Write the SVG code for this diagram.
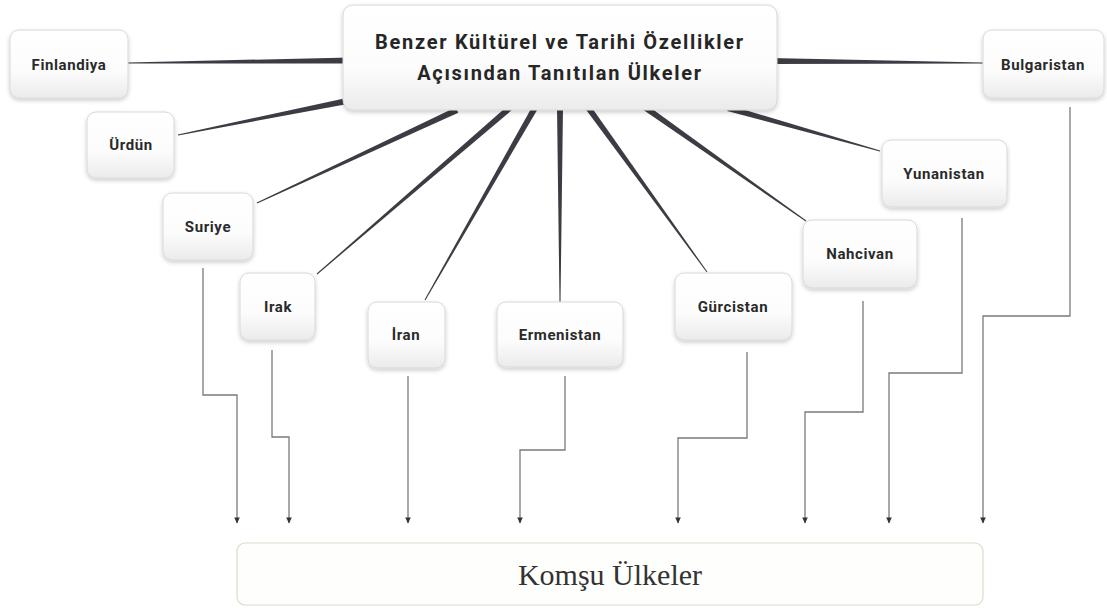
<svg xmlns="http://www.w3.org/2000/svg" width="1107" height="610" viewBox="0 0 1107 610">
<defs>
<linearGradient id="g" x1="0" y1="0" x2="0" y2="1">
<stop offset="0" stop-color="#ffffff"/><stop offset="0.6" stop-color="#fcfcfc"/><stop offset="1" stop-color="#ebebeb"/>
</linearGradient>
<filter id="sh" x="-20%" y="-20%" width="140%" height="150%">
<feDropShadow dx="0" dy="2" stdDeviation="2" flood-color="#000" flood-opacity="0.2"/>
</filter>
<marker id="ah" markerUnits="userSpaceOnUse" markerWidth="7" markerHeight="7" refX="6" refY="3.5" orient="auto" viewBox="0 0 7 7">
<path d="M0.5,0.7 L6.5,3.5 L0.5,6.3 Z" fill="#333"/>
</marker>
</defs>
<style>
.box{fill:url(#g);stroke:#d8d8d8;stroke-width:1;filter:url(#sh)}
.lbl{font-family:Roboto,"Liberation Sans",sans-serif;font-weight:bold;font-size:15px;fill:#2a2a2a;text-anchor:middle;letter-spacing:0.6px}
.title{font-family:Roboto,"Liberation Sans",sans-serif;font-weight:bold;font-size:20px;fill:#262626;text-anchor:middle;letter-spacing:1.7px}
.tap{fill:#3c3c44}
.el{fill:none;stroke:#7a7a7a;stroke-width:1.3;marker-end:url(#ah)}
</style>
<rect width="1107" height="610" fill="#ffffff"/>
<g id="connectors">
<polygon class="tap" points="128,62.5 350,57.5 350,63.5 128,63.5"/>
<polygon class="tap" points="770,58 983,62.5 983,63.5 770,64"/>
<polygon class="tap" points="178.1,135.49 347.59,103.94 346.41,98.06 177.9,134.51"/>
<polygon class="tap" points="257.21,203.45 458.27,112.72 455.73,107.28 256.79,202.55"/>
<polygon class="tap" points="317.33,274.38 513.96,108.28 510.04,103.72 316.67,273.62"/>
<polygon class="tap" points="425.43,300.25 538.6,107.49 533.4,104.51 424.57,299.75"/>
<polygon class="tap" points="560.5,302 563,106 557,106 559.5,302"/>
<polygon class="tap" points="707.4,271.71 589.43,104.24 584.57,107.76 706.6,272.29"/>
<polygon class="tap" points="806.29,220.59 644.73,103.55 641.27,108.45 805.71,221.41"/>
<polygon class="tap" points="880.14,150.52 728.82,105.11 727.18,110.89 879.86,151.48"/>
<path class="el" d="M203,268 V395 H237 V523"/>
<path class="el" d="M272,350 V437 H289 V523"/>
<path class="el" d="M408,376 V523"/>
<path class="el" d="M565,376 V450 H520 V523"/>
<path class="el" d="M747,352 V438 H678 V523"/>
<path class="el" d="M863,301 V412 H805 V523"/>
<path class="el" d="M962,218 V373 H889 V523"/>
<path class="el" d="M1070,107 V316 H983 V523"/>
</g>
<g id="center">
<rect class="box" x="343" y="5" width="434" height="105" rx="10"/>
<text class="title" x="560" y="49">Benzer Kültürel ve Tarihi Özellikler</text>
<text class="title" x="560" y="80">Açısından Tanıtılan Ülkeler</text>
</g>
<g id="finlandiya"><rect class="box" x="10" y="30" width="118" height="68" rx="9"/><text class="lbl" x="69" y="70">Finlandiya</text></g>
<g id="urdun"><rect class="box" x="87" y="112" width="87" height="66" rx="9"/><text class="lbl" x="131" y="150">Ürdün</text></g>
<g id="suriye"><rect class="box" x="163" y="193" width="90" height="67" rx="9"/><text class="lbl" x="208" y="232">Suriye</text></g>
<g id="irak"><rect class="box" x="240" y="273" width="75" height="67" rx="9"/><text class="lbl" x="278" y="312">Irak</text></g>
<g id="iran"><rect class="box" x="368" y="302" width="77" height="66" rx="9"/><text class="lbl" x="406" y="340">İran</text></g>
<g id="ermenistan"><rect class="box" x="497" y="302" width="126" height="65" rx="9"/><text class="lbl" x="560" y="340">Ermenistan</text></g>
<g id="gurcistan"><rect class="box" x="675" y="273" width="117" height="67" rx="9"/><text class="lbl" x="733" y="312">Gürcistan</text></g>
<g id="nahcivan"><rect class="box" x="803" y="220" width="114" height="68" rx="9"/><text class="lbl" x="860" y="259">Nahcivan</text></g>
<g id="yunanistan"><rect class="box" x="882" y="140" width="125" height="67" rx="9"/><text class="lbl" x="944" y="179">Yunanistan</text></g>
<g id="bulgaristan"><rect class="box" x="983" y="30" width="121" height="68" rx="9"/><text class="lbl" x="1043" y="70">Bulgaristan</text></g>
<g id="komsu">
<rect x="237" y="543" width="746" height="62" rx="8" fill="#fefefc" stroke="#d9dcc9" stroke-width="1.2"/>
<text x="610" y="585" font-family="'Liberation Serif',serif" font-size="30" fill="#333" text-anchor="middle">Komşu Ülkeler</text>
</g>
</svg>
